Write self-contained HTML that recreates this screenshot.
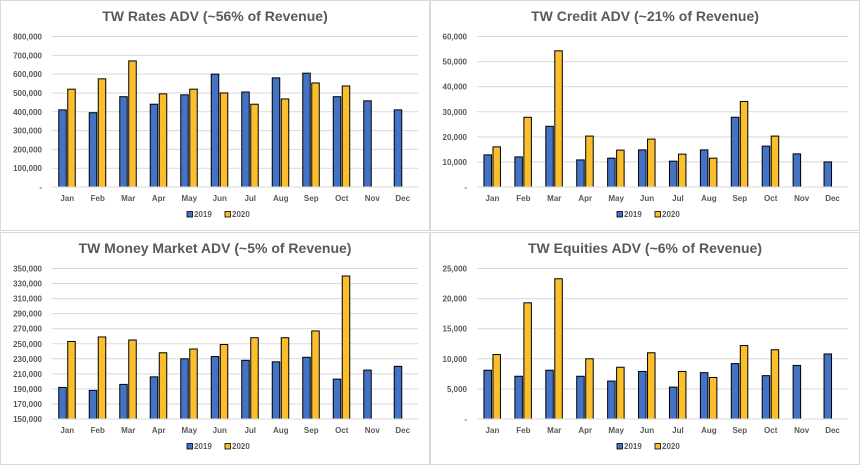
<!DOCTYPE html>
<html><head><meta charset="utf-8"><style>
html,body{margin:0;padding:0;background:#fff;width:860px;height:465px;overflow:hidden}
svg{display:block;font-family:"Liberation Sans",Arial,sans-serif}
</style></head><body>
<svg id="s" width="860" height="465"></svg>
<script>
const months=["Jan","Feb","Mar","Apr","May","Jun","Jul","Aug","Sep","Oct","Nov","Dec"];
const ratesTitle="TW Rates ADV (~56% of Revenue)";
const rates2019=[410000,395000,480000,440000,490000,600000,505000,580000,605000,480000,458000,410000];
const rates2020=[520000,575000,670000,495000,520000,500000,440000,468000,553000,537000];
const ratesTicks=[0,100000,200000,300000,400000,500000,600000,700000,800000];
const creditTitle="TW Credit ADV (~21% of Revenue)";
const credit2019=[12800,12000,24200,10800,11500,14800,10300,14800,27800,16300,13200,10000];
const credit2020=[16000,27800,54300,20300,14700,19100,13100,11500,34100,20300];
const creditTicks=[0,10000,20000,30000,40000,50000,60000];
const mmTitle="TW Money Market ADV (~5% of Revenue)";
const mm2019=[192000,188000,196000,206000,230000,233000,228000,226000,232000,203000,215000,220000];
const mm2020=[253000,259000,255000,238000,243000,249000,258000,258000,267000,340000];
const mmTicks=[150000,170000,190000,210000,230000,250000,270000,290000,310000,330000,350000];
const eqTitle="TW Equities ADV (~6% of Revenue)";
const eq2019=[8100,7100,8100,7100,6300,7900,5300,7700,9200,7200,8900,10800];
const eq2020=[10700,19300,23300,10000,8600,11000,7900,6900,12200,11500];
const eqTicks=[0,5000,10000,15000,20000,25000];

const svg=document.getElementById('s');
const NS="http://www.w3.org/2000/svg";
function mk(tag,attrs,parent){const e=document.createElementNS(NS,tag);for(const k in attrs)e.setAttribute(k,attrs[k]);(parent||svg).appendChild(e);return e;}
function fmt(v){return v===0?"-":v.toLocaleString('en-US');}

function panel(px,py,pw,ph,title,s19,s20,ticks,plotL,name){
  const g=mk('g',{});
  
  
  const r=mk('rect',{x:px+0.5,y:py+0.5,width:pw-1,height:ph-1,fill:'#fff',stroke:'#d9d9d9'},g);
  
  
  const t=mk('text',{x:px+pw/2,y:py+21,'text-anchor':'middle','font-size':'14','font-weight':'bold',fill:'#595959'},g);
  t.textContent=title;
  
  
  const top=py+36.5, base=py+187, right=px+418;
  const lo=ticks[0], hi=ticks[ticks.length-1];
  const y=v=>base-(v-lo)/(hi-lo)*(base-top);
  const cw=(right-plotL)/12;
  const x=i=>plotL+cw*i;
  ticks.forEach(tv=>{
    const l=mk('line',{x1:plotL,x2:right,y1:y(tv),y2:y(tv),stroke:'#d9d9d9','stroke-width':1},g);
    
    
    const tl=mk('text',{x:plotL-10,y:y(tv)+3,'text-anchor':'end','font-size':'8','font-weight':'bold',fill:'#595959'},g);
    tl.textContent=fmt(tv);
    
    
  });
  months.forEach((m,i)=>{
    const c=x(i)+cw/2;
    if(s19[i]!=null){
      const b=mk('rect',{x:c-8.5,y:y(s19[i]),width:7.5,height:base-y(s19[i]),fill:'#4472c4',stroke:'#000','stroke-width':1},g);
      
      
    }
    if(s20[i]!=null){
      const b=mk('rect',{x:c+0.5,y:y(s20[i]),width:7.5,height:base-y(s20[i]),fill:'#fbbf2d',stroke:'#000','stroke-width':1},g);
      
      
    }
    const ml=mk('text',{x:c,y:base+14,'text-anchor':'middle','font-size':'8','font-weight':'bold',fill:'#595959'},g);
    ml.textContent=m;
    
    
  });
  const ax=mk('line',{x1:plotL,x2:right,y1:base,y2:base,stroke:'#d9d9d9'},g);
  
  
  const lx=px+187, ly=py+217;
  [['#4472c4','2019',lx],['#fbbf2d','2020',lx+38]].forEach(([col,lab,xx])=>{
    const e=mk('g',{},g);
    
    
    mk('rect',{x:xx,y:ly-5.5,width:5.5,height:5.5,fill:col,stroke:'#000','stroke-width':0.8},e);
    const lt=mk('text',{x:xx+7,y:ly,'font-size':'8','font-weight':'bold',fill:'#595959'},e);
    lt.textContent=lab;
  });
}
mk('rect',{x:0,y:0,width:860,height:465,fill:'#fff'});
panel(0,0,430,231,ratesTitle,rates2019,rates2020,ratesTicks,52,'rates-chart');
panel(430,0,430,231,creditTitle,credit2019,credit2020,creditTicks,477,'credit-chart');
panel(0,232,430,233,mmTitle,mm2019,mm2020,mmTicks,52,'money-market-chart');
panel(430,232,430,233,eqTitle,eq2019,eq2020,eqTicks,477,'equities-chart');
</script>
</body></html>
